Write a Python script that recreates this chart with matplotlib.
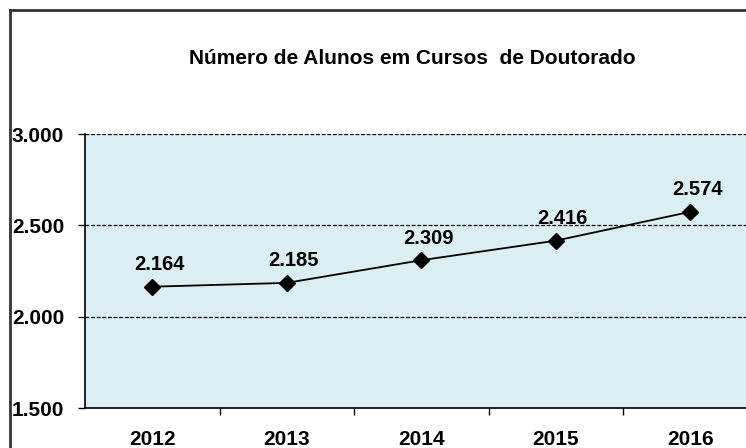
import matplotlib
matplotlib.use("Agg")
import matplotlib.pyplot as plt
from matplotlib.lines import Line2D
from matplotlib.ticker import FuncFormatter

# dados
anos = ["2012", "2013", "2014", "2015", "2016"]
alunos = [2164, 2185, 2309, 2416, 2574]
titulo = "Número de Alunos em Cursos  de Doutorado"

plt.rcParams["font.family"] = ["Liberation Sans", "DejaVu Sans"]
plt.rcParams["font.weight"] = "bold"

W, H = 746, 448
fig = plt.figure(figsize=(W / 100, H / 100), dpi=100)

# moldura exterior do grafico
top = 1 - 10.5 / H
left = 9.5 / W
fig.add_artist(Line2D([left, 1.01], [top, top], transform=fig.transFigure,
                      color="#333333", lw=2))
fig.add_artist(Line2D([left, left], [-0.01, top], transform=fig.transFigure,
                      color="#333333", lw=2))

fig.text(412 / W, 1 - 59 / H, titulo, ha="center", va="center",
         fontsize=15, fontweight="bold")

ax = fig.add_axes([85 / W, 1 - 408 / H, (757.5 - 85) / W, (408 - 134) / H])
ax.set_facecolor("#DAEEF3")

x = list(range(len(anos)))
ax.plot(x, alunos, color="black", lw=1.3, marker="D", markersize=8.5,
        markerfacecolor="black", markeredgecolor="black", zorder=3)
for xi, v in zip(x, alunos):
    ax.annotate(f"{v / 1000:.3f}", (xi, v), xytext=(5, 16),
                textcoords="offset points", ha="center", va="center",
                fontsize=14.5, fontweight="bold")

ax.set_xlim(-0.5, len(anos) - 0.5)
ax.set_ylim(1500, 3000)
ax.set_yticks([1500, 2000, 2500, 3000])
ax.yaxis.set_major_formatter(FuncFormatter(lambda v, p: f"{v / 1000:.3f}"))
ax.set_xticks(x)
ax.set_xticklabels(anos)
ax.set_xticks([i + 0.5 for i in x[:-1]], minor=True)

for yv in [2000, 2500, 3000]:
    ax.axhline(yv, color="black", lw=0.9, ls=(0, (3, 1.5)), zorder=1)

ax.tick_params(axis="x", which="major", length=0, pad=16, labelsize=15)
ax.tick_params(axis="x", which="minor", length=5, width=1, direction="out")
ax.tick_params(axis="y", length=5, width=1, direction="out", pad=10,
               labelsize=15)
for lab in ax.get_xticklabels() + ax.get_yticklabels():
    lab.set_fontweight("bold")

for s in ["top", "right"]:
    ax.spines[s].set_visible(False)
for s in ["left", "bottom"]:
    ax.spines[s].set_linewidth(1.2)

fig.savefig("out.png", dpi=100)
